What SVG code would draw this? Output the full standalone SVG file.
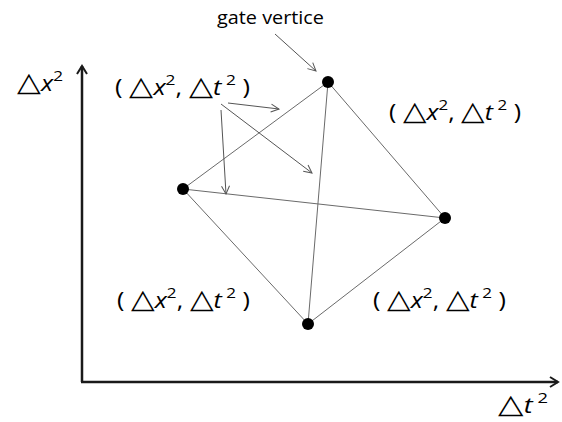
<svg xmlns="http://www.w3.org/2000/svg" width="562" height="422" viewBox="0 0 562 422">
<style>
.lbl{font-family:"Open Sans","Liberation Sans",sans-serif;font-size:22px;fill:#000}
.it{font-style:italic}
.tri{font-size:27px}
.sup{font-size:15px}
.edge{stroke:#6a6a6a;stroke-width:1;fill:none}
.ptr{stroke:#555;stroke-width:1;fill:none;marker-end:url(#open)}
.axis{stroke:#1a1a1a;stroke-width:2.5;fill:none;marker-end:url(#ax)}
.node{fill:#000}
</style>
<defs>
<marker id="open" markerWidth="10" markerHeight="10" refX="9" refY="5" orient="auto" markerUnits="userSpaceOnUse">
<path d="M1,1 L9,5 L1,9" fill="none" stroke="#555" stroke-width="1"/>
</marker>
<marker id="ax" markerWidth="12" markerHeight="12" refX="10" refY="6" orient="auto" markerUnits="userSpaceOnUse">
<path d="M2,1 L10,6 L2,11" fill="none" stroke="#1a1a1a" stroke-width="2"/>
</marker>
</defs>
<rect width="562" height="422" fill="#fff"/>
<g id="axes">
<path class="axis" d="M82,382 L82,66"/>
<path class="axis" d="M81,382 L558,382"/>
</g>
<g id="connectors">
<line class="edge" x1="328" y1="82" x2="183" y2="189"/>
<line class="edge" x1="328" y1="82" x2="445" y2="218"/>
<line class="edge" x1="328" y1="82" x2="308" y2="324"/>
<line class="edge" x1="183" y1="189" x2="445" y2="218"/>
<line class="edge" x1="183" y1="189" x2="308" y2="324"/>
<line class="edge" x1="445" y1="218" x2="308" y2="324"/>
<line class="ptr" x1="275" y1="34" x2="316" y2="71"/>
<line class="ptr" x1="228" y1="103" x2="279" y2="109"/>
<line class="ptr" x1="221" y1="104" x2="312" y2="173"/>
<line class="ptr" x1="221" y1="110" x2="226" y2="194"/>
</g>
<g id="node-top"><circle class="node" cx="328" cy="82" r="6"/></g>
<g id="node-left"><circle class="node" cx="183" cy="189" r="6"/></g>
<g id="node-right"><circle class="node" cx="445" cy="218" r="6"/></g>
<g id="node-bottom"><circle class="node" cx="308" cy="324" r="6"/></g>
<g id="labels">
<text class="lbl" x="217" y="24" style="font-size:18px" textLength="107" lengthAdjust="spacingAndGlyphs">gate vertice</text>
<text class="lbl" x="17" y="91" textLength="46" lengthAdjust="spacingAndGlyphs"><tspan class="tri">△</tspan><tspan class="it">x</tspan><tspan class="sup" dy="-10">2</tspan></text>
<text class="lbl" x="498" y="413" textLength="50" lengthAdjust="spacingAndGlyphs"><tspan class="tri">△</tspan><tspan class="it">t</tspan><tspan class="sup" dy="-10"> 2</tspan></text>
<text class="lbl" x="115" y="95" textLength="135" lengthAdjust="spacingAndGlyphs">( <tspan class="tri">△</tspan><tspan class="it">x</tspan><tspan class="sup" dy="-10">2</tspan><tspan dy="10">, </tspan><tspan class="tri">△</tspan><tspan class="it">t</tspan><tspan class="sup" dy="-10"> 2</tspan><tspan dy="10"> )</tspan></text>
<text class="lbl" x="389" y="120" textLength="132" lengthAdjust="spacingAndGlyphs">( <tspan class="tri">△</tspan><tspan class="it">x</tspan><tspan class="sup" dy="-10">2</tspan><tspan dy="10">, </tspan><tspan class="tri">△</tspan><tspan class="it">t</tspan><tspan class="sup" dy="-10"> 2</tspan><tspan dy="10"> )</tspan></text>
<text class="lbl" x="117" y="308" textLength="133" lengthAdjust="spacingAndGlyphs">( <tspan class="tri">△</tspan><tspan class="it">x</tspan><tspan class="sup" dy="-10">2</tspan><tspan dy="10">, </tspan><tspan class="tri">△</tspan><tspan class="it">t</tspan><tspan class="sup" dy="-10"> 2</tspan><tspan dy="10"> )</tspan></text>
<text class="lbl" x="373" y="308" textLength="133" lengthAdjust="spacingAndGlyphs">( <tspan class="tri">△</tspan><tspan class="it">x</tspan><tspan class="sup" dy="-10">2</tspan><tspan dy="10">, </tspan><tspan class="tri">△</tspan><tspan class="it">t</tspan><tspan class="sup" dy="-10"> 2</tspan><tspan dy="10"> )</tspan></text>
</g>
</svg>
